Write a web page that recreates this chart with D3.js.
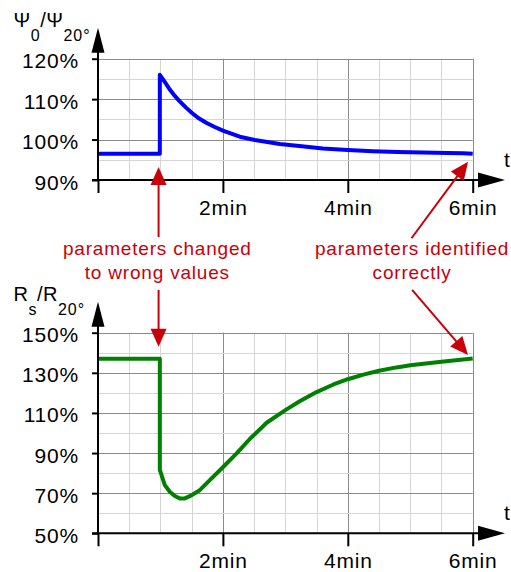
<!DOCTYPE html>
<head>
<meta charset="utf-8">
<style>
body { margin: 0; background: #fff; }
text { font-family: "Liberation Sans", Arial, sans-serif; fill: #000; }
.tick text { font-size: 21px; letter-spacing: 0.8px; }
.grid-minor { stroke: #d6d6d6; stroke-width: 1; }
.grid-major { stroke: #8a8a8a; stroke-width: 1; }
.note { fill: #c8000a; font-size: 19px; letter-spacing: 0.8px; }
</style>
</head>
<body>
<svg width="511" height="572"></svg>
<script src="https://d3js.org/d3.v7.min.js"></script>
<script>
// flux ratio Psi0/Psi20 (top), resistance ratio Rs/R20 (bottom), time in minutes
var psiTime = [0, 0.99, 0.99, 1.08, 1.153, 1.23, 1.313, 1.41, 1.51, 1.62, 1.74, 1.87, 2.0, 2.27, 2.51, 2.91, 3.3, 3.6, 4.0, 4.4, 4.8, 5.2, 5.6, 5.85, 6.0];
var psiValue = [96.5, 96.5, 116, 114.0, 112.3, 110.8, 109.4, 107.9, 106.5, 105.2, 104.1, 103.1, 102.2, 100.7, 99.9, 98.9, 98.3, 97.8, 97.4, 97.1, 96.9, 96.8, 96.7, 96.6, 96.5];

var rsTime = [0, 0.99, 0.99, 1.07, 1.15, 1.23, 1.31, 1.39, 1.47, 1.63, 1.79, 2.0, 2.22, 2.43, 2.7, 3.0, 3.23, 3.5, 3.77, 4.0, 4.25, 4.5, 4.78, 5.0, 5.5, 6.0];
var rsValue = [137, 137, 81.6, 74.0, 70.7, 68.6, 67.4, 67.4, 68.5, 71.5, 76.5, 82.9, 89.8, 97.0, 105.1, 111.4, 115.8, 120.4, 124.2, 126.8, 129.1, 131.0, 132.7, 133.8, 135.5, 137.1];

var timeTicks = [0, 2, 4, 6];
var psiTicks = [90, 100, 110, 120];
var rsTicks = [50, 70, 90, 110, 130, 150];

var svg = d3.select("svg");

var x = d3.scaleLinear().domain([0, 6]).range([98, 472.7]);
var yTop = d3.scaleLinear().domain([90, 120]).range([180, 58.7]);
var yBot = d3.scaleLinear().domain([50, 150]).range([533.3, 332.7]);

function panel(y, ticks, minorStep, times, values, color, letter, sub) {
  var g = svg.append("g");
  var y0 = y.range()[0], y1 = y.range()[1];
  var x0 = x.range()[0], x1 = x.range()[1];

  // grid
  var vmin = d3.range(0, 6.01, 0.5);
  g.selectAll(".gv").data(vmin).enter().append("line")
      .attr("class", function(d) { return d % 2 === 0 ? "grid-major" : "grid-minor"; })
      .attr("x1", function(d) { return Math.round(x(d)) + 0.5; })
      .attr("x2", function(d) { return Math.round(x(d)) + 0.5; })
      .attr("y1", y0).attr("y2", y1);
  var d0 = y.domain()[0], d1 = y.domain()[1];
  var hv = d3.range(d0, d1 + 0.01, minorStep);
  g.selectAll(".gh").data(hv).enter().append("line")
      .attr("class", function(d) { return ticks.indexOf(d) >= 0 ? "grid-major" : "grid-minor"; })
      .attr("y1", function(d) { return Math.round(y(d)) + 0.5; })
      .attr("y2", function(d) { return Math.round(y(d)) + 0.5; })
      .attr("x1", x0).attr("x2", x1);

  // data line
  var line = d3.line().x(function(d) { return x(d[0]); }).y(function(d) { return y(d[1]); });
  g.append("path")
      .datum(d3.zip(times, values))
      .attr("d", line)
      .attr("fill", "none")
      .attr("stroke", color)
      .attr("stroke-width", 4)
      .attr("stroke-linejoin", "round");

  // axes
  var ax = g.append("g").attr("transform", "translate(0," + y0 + ")")
      .call(d3.axisBottom(x).tickValues(timeTicks).tickSize(13).tickPadding(7)
        .tickFormat(function(d) { return d === 0 ? "" : d + "min"; }));
  var ay = g.append("g").attr("transform", "translate(" + x0 + ",0)")
      .call(d3.axisLeft(y).tickValues(ticks).tickSize(6).tickPadding(13)
        .tickFormat(function(d) { return d + "%"; }));
  [ax, ay].forEach(function(a) {
    a.select(".domain").remove();
    a.selectAll("line").attr("stroke", "#000").attr("stroke-width", 2);
    a.selectAll("text").attr("font-family", null).attr("font-size", null);
  });
  ay.selectAll("text").attr("dy", "0.43em");
  ax.selectAll("text").attr("dy", "0.72em");

  g.append("line").attr("x1", x0 - 6).attr("x2", 480).attr("y1", y0).attr("y2", y0)
      .attr("stroke", "#000").attr("stroke-width", 2);
  g.append("line").attr("x1", x0).attr("x2", x0).attr("y1", y0).attr("y2", y1 - 8)
      .attr("stroke", "#000").attr("stroke-width", 2);
  g.append("path").attr("d", d3.line()([[x0 - 6.5, y1 - 6], [x0 + 6.5, y1 - 6], [x0, y1 - 31]]))
      .attr("fill", "#000");
  g.append("path").attr("d", d3.line()([[478, y0 - 7.5], [478, y0 + 7.5], [505, y0]]))
      .attr("fill", "#000");

  g.append("text").attr("x", 504).attr("y", y0 - 13.5)
      .style("font-size", "21px").text("t");

  var t = g.append("text").attr("x", 13.5).attr("y", y1 - 31.5)
      .style("font-size", "20px").style("letter-spacing", "0.5px");
  t.append("tspan").text(letter);
  t.append("tspan").attr("dy", 14).style("font-size", "16px").text(sub);
  t.append("tspan").attr("dy", -14).text("/" + letter);
  t.append("tspan").attr("dy", 14).style("font-size", "16px").style("letter-spacing", "1px").text("20°");
}

panel(yTop, psiTicks, 5, psiTime, psiValue, "#0000ff", "Ψ", "0");
panel(yBot, rsTicks, 10, rsTime, rsValue, "#008000", "R", "s");

// annotations
var red = "#c8000a";
var arrows = [
  {from: [0.97, yTop(75.9)], to: [0.97, yTop(93.2)]},
  {from: [0.97, yBot(171.3)], to: [0.97, yBot(143.0)]},
  {from: [5.02, yTop(75.6)], to: [5.925, yTop(94.5)]},
  {from: [5.03, yBot(171.3)], to: [5.925, yBot(138.9)]}
];
arrows.forEach(function(a) {
  var fx = x(a.from[0]), fy = a.from[1], tx = x(a.to[0]), ty = a.to[1];
  var dx = tx - fx, dy = ty - fy, len = Math.sqrt(dx * dx + dy * dy);
  var ux = dx / len, uy = dy / len, hl = 18, hw = 8;
  var bx = tx - ux * hl, by = ty - uy * hl;
  svg.append("line").attr("x1", fx).attr("y1", fy).attr("x2", bx + ux * 2).attr("y2", by + uy * 2)
      .attr("stroke", red).attr("stroke-width", 2);
  svg.append("path")
      .attr("d", d3.line()([[tx, ty], [bx - uy * hw, by + ux * hw], [bx + uy * hw, by - ux * hw]]))
      .attr("fill", red);
});

var notes = [
  {t: 0.95, lines: ["parameters changed", "to wrong values"]},
  {t: 5.03, lines: ["parameters identified", "correctly"]}
];
notes.forEach(function(n) {
  n.lines.forEach(function(s, i) {
    svg.append("text").attr("class", "note")
        .attr("x", x(n.t)).attr("y", 254.5 + i * 24)
        .attr("text-anchor", "middle").text(s);
  });
});
</script>
</body>
